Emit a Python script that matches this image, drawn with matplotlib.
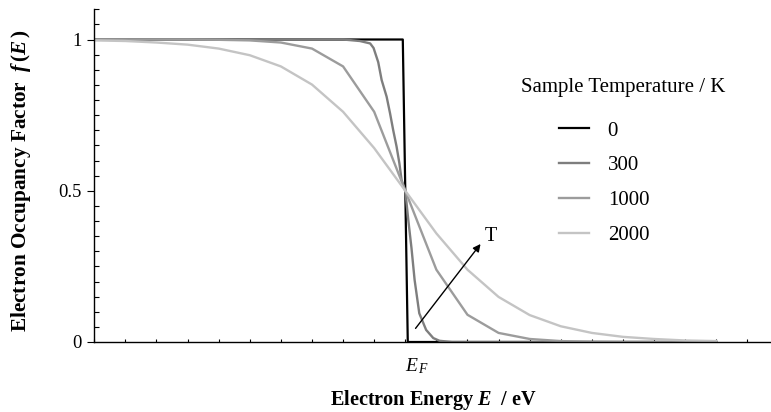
import matplotlib
matplotlib.use('Agg')
import matplotlib.pyplot as plt
from matplotlib.ticker import MultipleLocator

plt.rcParams['font.family'] = ['Liberation Serif', 'DejaVu Serif']
plt.rcParams['mathtext.fontset'] = 'custom'
plt.rcParams['mathtext.rm'] = 'Liberation Serif'
plt.rcParams['mathtext.it'] = 'Liberation Serif:italic'
plt.rcParams['mathtext.bf'] = 'Liberation Serif:bold'
plt.rcParams['mathtext.bfit'] = 'Liberation Serif:bold:italic'

# energies in eV, E_F at 1.0
e_0k = [0.0, 0.992, 1.008, 2.0]
f_0k = [1.0, 1.0, 0.0, 0.0]

e_300 = [0.0, 0.80, 0.854, 0.887, 0.898, 0.913, 0.924, 0.940, 0.951, 0.961,
         0.972, 0.981, 0.988, 1.0, 1.01, 1.02, 1.03, 1.045, 1.067, 1.09,
         1.11, 1.15, 2.0]
f_300 = [1.0, 1.0, 0.995, 0.987, 0.972, 0.925, 0.866, 0.811, 0.756, 0.701,
         0.646, 0.591, 0.536, 0.5, 0.40, 0.31, 0.205, 0.095, 0.040, 0.013,
         0.004, 0.0, 0.0]

e_grid = [0.0, 0.1, 0.2, 0.3, 0.4, 0.5, 0.6, 0.7, 0.8, 0.9, 1.0,
          1.1, 1.2, 1.3, 1.4, 1.5, 1.6, 1.7, 1.8, 1.9, 2.0]
f_1000 = [1.000, 1.000, 1.000, 1.000, 0.999, 0.997, 0.990, 0.970, 0.911, 0.761, 0.500,
          0.239, 0.090, 0.030, 0.010, 0.003, 0.001, 0.000, 0.000, 0.000, 0.000]
f_2000 = [0.997, 0.995, 0.990, 0.983, 0.970, 0.948, 0.911, 0.851, 0.761, 0.641, 0.500,
          0.359, 0.239, 0.149, 0.089, 0.052, 0.030, 0.017, 0.010, 0.005, 0.003]

temps = ['0', '300', '1000', '2000']
colors = ['#000000', '#7e7e7e', '#9c9c9c', '#c4c4c4']

W, H = 771, 412
fig = plt.figure(figsize=(W / 100, H / 100), dpi=100)
ax = fig.add_axes([94.3 / W, 70 / H, 1 - 94.3 / W, 332.75 / H])

ax.plot(e_0k, f_0k, color=colors[0], lw=1.6, label=temps[0])
ax.plot(e_300, f_300, color=colors[1], lw=1.7, label=temps[1])
ax.plot(e_grid, f_1000, color=colors[2], lw=1.7, label=temps[2])
ax.plot(e_grid, f_2000, color=colors[3], lw=1.7, label=temps[3])

ax.set_xlim(0, 2.176)
ax.set_ylim(0, 1.1)
for s in ['top', 'right']:
    ax.spines[s].set_visible(False)
for s in ['left', 'bottom']:
    ax.spines[s].set_linewidth(1.0)

ax.set_yticks([0, 0.5, 1])
ax.set_yticklabels(['0', '0.5', '1'])
ax.yaxis.set_minor_locator(MultipleLocator(0.05))
ax.tick_params(axis='y', which='major', direction='out', length=5, width=0.8,
               labelsize=13.3, pad=4)
ax.tick_params(axis='y', which='minor', direction='in', length=3.6, width=0.8)

ax.set_xticks([1.0])
ax.set_xticklabels([r'$E_{\,F}$'])
ax.xaxis.set_minor_locator(MultipleLocator(0.1))
ax.tick_params(axis='x', which='both', direction='in', length=2.4, width=0.8,
               labelsize=14, pad=10)
for t in ax.get_xticklabels():
    t.set_ha('left')

leg = ax.legend(loc='upper left', bbox_to_anchor=(559 / W, 1 - 121 / H),
                bbox_transform=fig.transFigure, frameon=False, fontsize=15,
                handlelength=1.44, handletextpad=0.9, labelspacing=0.73,
                borderpad=0, borderaxespad=0)
fig.text(521 / W, 1 - 92.3 / H, 'Sample Temperature / K', fontsize=15, va='baseline')

ax.annotate('', xy=(1.242, 0.324), xytext=(1.033, 0.045),
            arrowprops=dict(arrowstyle='-|>', color='black', lw=1.0,
                            mutation_scale=11, shrinkA=0, shrinkB=0))
ax.text(1.2755, 0.334, 'T', fontsize=14.5, ha='center', va='baseline')

fig.text(21 / W, 1 - 180.5 / H,
         r'Electron Occupancy Factor  $\mathbfit{f}\,\mathbf{(}\mathbfit{E}\,\mathbf{)}$',
         rotation=90, ha='center', va='center', fontsize=15.3, fontweight='bold')
fig.text(434 / W, 6.5 / H, r'Electron Energy $\mathbfit{E}$  / eV',
         ha='center', va='baseline', fontsize=14.6, fontweight='bold')

fig.savefig('out.png', dpi=100)
